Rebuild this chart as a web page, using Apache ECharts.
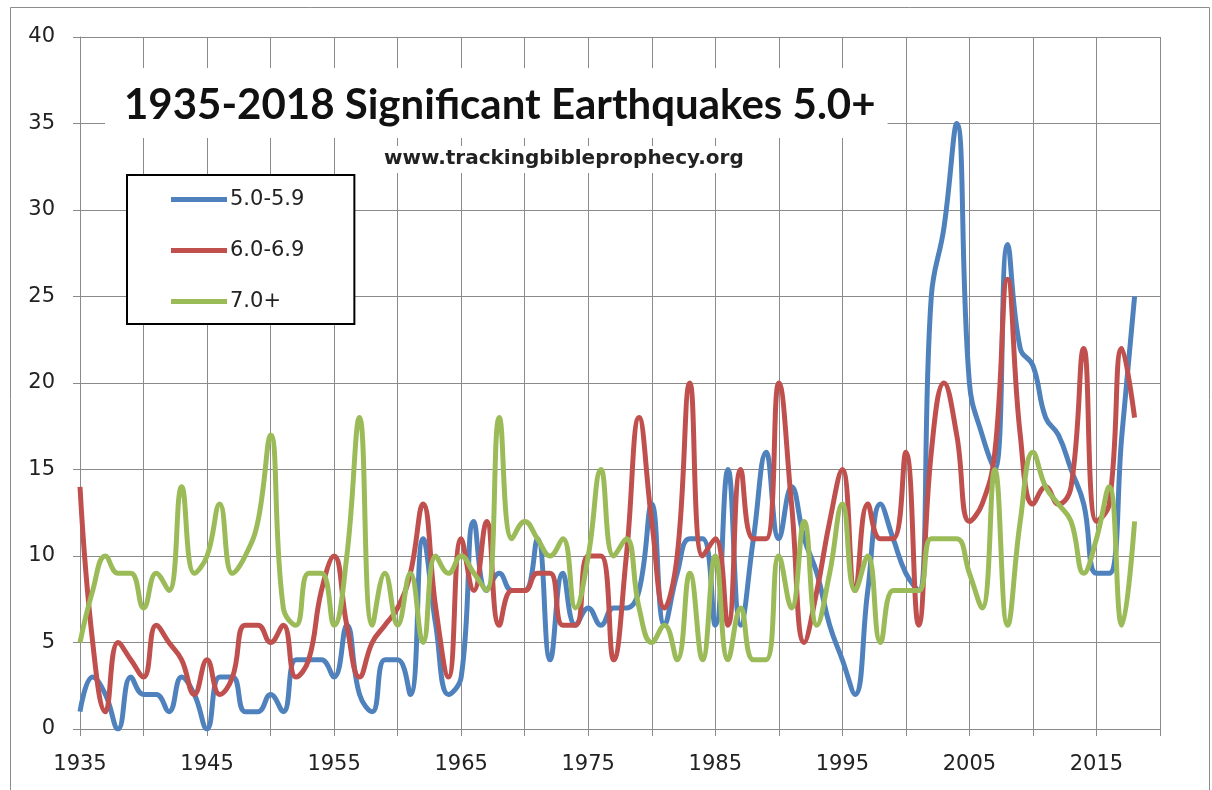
<!DOCTYPE html>
<html>
<head>
<meta charset="utf-8">
<script src="https://cdn.jsdelivr.net/npm/echarts@6/dist/echarts.min.js"></script>
<style>
  html, body { margin: 0; padding: 0; background: #fff; }
  #chart { width: 1212px; height: 790px; }
</style>
</head>
<body>
<div id="chart"></div>
<script>
// years 1935 .. 2018
const years = Array.from({ length: 84 }, (_, i) => 1935 + i)

// 5.0-5.9
const mag5 = [
  1, 3, 2, 0, 3, 2, 2, 1, 3, 2,
  0, 3, 3, 1, 1, 2, 1, 4, 4, 4,
  3, 6, 2, 1, 4, 4, 2, 11, 6, 2,
  3, 12, 8, 9, 8, 8, 11, 4, 9, 6,
  7, 6, 7, 7, 8, 13, 6, 9, 11, 11,
  6, 15, 6, 11, 16, 11, 14, 11, 9, 6,
  4, 2, 8, 13, 11, 9, 8, 25, 29, 35,
  20, 17, 15, 28, 22, 21, 18, 17, 15, 13,
  9, 9, 17, 25
]
// 6.0-6.9
const mag6 = [
  14, 5, 1, 5, 4, 3, 6, 5, 4, 2,
  4, 2, 3, 6, 6, 5, 6, 3, 4, 8,
  10, 6, 3, 5, 6, 7, 9, 13, 7, 3,
  11, 8, 12, 6, 8, 8, 9, 9, 6, 6,
  10, 10, 4, 10, 18, 12, 7, 10, 20, 10,
  11, 6, 15, 11, 11, 20, 13, 5, 8, 12,
  15, 8, 13, 11, 11, 16, 6, 16, 20, 17,
  12, 13, 16, 26, 17, 13, 14, 13, 14, 22,
  12, 13, 22, 18
]
// 7.0+
const mag7 = [
  5, 8, 10, 9, 9, 7, 9, 8, 14, 9,
  10, 13, 9, 10, 12, 17, 7, 6, 9, 9,
  6, 10, 18, 6, 9, 6, 9, 5, 10, 9,
  10, 9, 8, 18, 11, 12, 11, 10, 11, 7,
  10, 15, 10, 11, 7, 5, 6, 4, 9, 4,
  10, 4, 7, 4, 4, 10, 7, 12, 6, 9,
  13, 8, 10, 5, 8, 8, 8, 11, 11, 11,
  9, 7, 15, 6, 12, 16, 14, 13, 12, 9,
  11, 14, 6, 12
]

const seriesNames = ['5.0-5.9', '6.0-6.9', '7.0+']
const seriesColors = ['#4f81bd', '#c0504d', '#9bbb59']
const seriesData = [mag5, mag6, mag7]

const chart = echarts.init(document.getElementById('chart'))

const gridColor = '#8a8a8a'
const labelFont = { fontFamily: 'DejaVu Sans', fontSize: 21, color: '#222' }

chart.setOption({
  animation: false,
  backgroundColor: '#fff',
  title: [{
    text: '1935-2018 Significant Earthquakes 5.0+',
    left: 105,
    top: 68,
    padding: [16, 12, 12, 19],
    backgroundColor: '#fff',
    textStyle: { fontFamily: 'Lato', fontWeight: 'bold', fontSize: 42, color: '#111' }
  }, {
    text: 'www.trackingbibleprophecy.org',
    left: 378,
    top: 146,
    padding: [3, 6, 4, 6],
    backgroundColor: '#fff',
    textStyle: { fontFamily: 'DejaVu Sans', fontWeight: 'bold', fontSize: 20, color: '#222' }
  }],
  legend: {
    orient: 'vertical',
    left: 127,
    top: 175,
    padding: [14, 50, 12, 44],
    itemWidth: 56,
    itemHeight: 5,
    itemGap: 30,
    icon: 'rect',
    itemStyle: { borderWidth: 0 },
    borderColor: '#000',
    borderWidth: 2,
    backgroundColor: '#fff',
    textStyle: Object.assign({}, labelFont, { padding: [0, 0, 0, -2] }),
    data: seriesNames
  },
  grid: { left: 80, right: 52, top: 37, bottom: 61 },
  xAxis: {
    type: 'value',
    min: 1935,
    max: 2020,
    interval: 5,
    axisLine: { lineStyle: { color: gridColor } },
    axisTick: { length: 7, lineStyle: { color: gridColor } },
    splitLine: { show: true, lineStyle: { color: gridColor } },
    axisLabel: Object.assign({}, labelFont, {
      margin: 25,
      formatter: v => ((v - 1935) % 10 === 0 ? String(v) : '')
    })
  },
  yAxis: {
    type: 'value',
    min: 0,
    max: 40,
    interval: 5,
    axisLine: { show: true, lineStyle: { color: gridColor } },
    axisTick: { show: true, length: 7, lineStyle: { color: gridColor } },
    splitLine: { lineStyle: { color: gridColor } },
    axisLabel: Object.assign({}, labelFont, { margin: 25 })
  },
  series: seriesNames.map((name, i) => ({
    name: name,
    type: 'line',
    smooth: 0.45,
    showSymbol: false,
    symbol: 'none',
    color: seriesColors[i],
    lineStyle: { width: 5, color: seriesColors[i] },
    data: years.map((y, j) => [y, seriesData[i][j]])
  })),
  graphic: [{
    type: 'rect',
    shape: { x: 10.5, y: 7.5, width: 1199, height: 800 },
    style: { fill: 'none', stroke: '#8c8c8c', lineWidth: 1 },
    silent: true,
    z: 100
  }]
})
</script>
</body>
</html>
